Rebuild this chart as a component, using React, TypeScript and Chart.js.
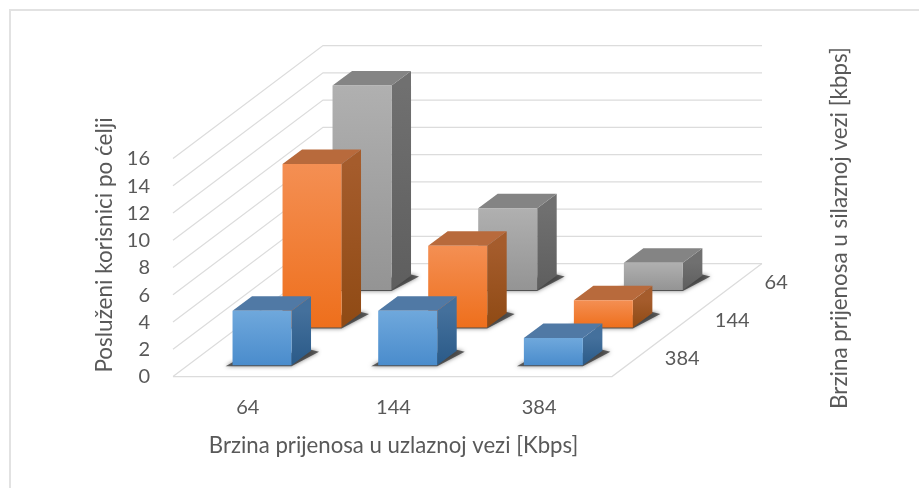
import React, { useEffect, useRef } from "react";
import { Chart, registerables } from "chart.js";

Chart.register(...registerables);

const uplinkCategories = ["64", "144", "384"];
const downlinkSeries = ["384", "144", "64"];
const usersDown384 = [4, 4, 2];
const usersDown144 = [12, 6, 2];
const usersDown64 = [15, 6, 2];
const yMax = 16;
const yStep = 2;
const yAxisTitle = "Posluženi korisnici po ćelji";
const xAxisTitle = "Brzina prijenosa u uzlaznoj vezi [Kbps]";
const depthAxisTitle = "Brzina prijenosa u silaznoj vezi [kbps]";

const FONT = "Lato, 'Open Sans', sans-serif";
const TEXT = "#595959";
const GRID = "#dcdcdc";
const WALL = { dx: 150, dy: -112.5 };
const ROW_STEP = { dx: 50, dy: -37.7 };
const ROW_START = { dx: 14.2, dy: -10.7 };
const BAR_DEPTH = { dx: 19.5, dy: -14.5 };
const LABEL_NUDGE = [0, 0, -6];
const PALETTES = [
  { hi: "#6fa8dc", lo: "#4a8ccc", topC: "#5079a5", sideHi: "#44709c", sideLo: "#2a5a88" },
  { hi: "#f48f53", lo: "#ee6f1c", topC: "#b86a3c", sideHi: "#a55c2c", sideLo: "#8f4a14" },
  { hi: "#b0b0b0", lo: "#949494", topC: "#848484", sideHi: "#707070", sideLo: "#5e5e5e" },
];

const offsetOf = (i: number) => ({
  dx: ROW_START.dx + ROW_STEP.dx * i,
  dy: ROW_START.dy + ROW_STEP.dy * i,
});

const poly = (ctx: CanvasRenderingContext2D, pts: number[][]) => {
  ctx.beginPath();
  pts.forEach(([x, y], i) => (i ? ctx.lineTo(x, y) : ctx.moveTo(x, y)));
  ctx.closePath();
};

const threeD = {
  id: "threeD",
  afterDatasetsUpdate(chart: any) {
    chart.data.datasets.forEach((_: any, i: number) => {
      const { dx, dy } = offsetOf(i);
      chart.getDatasetMeta(i).data.forEach((el: any) => {
        el.x += dx;
        el.y += dy;
        el.base += dy;
      });
    });
  },
  beforeDatasetsDraw(chart: any) {
    const { ctx, scales } = chart;
    const y = scales.y;
    const { left, right } = chart.chartArea;
    ctx.save();
    ctx.strokeStyle = GRID;
    ctx.lineWidth = 1.25;
    y.ticks.forEach((t: any) => {
      const p = y.getPixelForValue(t.value);
      ctx.beginPath();
      ctx.moveTo(left - 2, p + 0.5);
      ctx.lineTo(left + WALL.dx - 2, p + WALL.dy);
      ctx.lineTo(right + WALL.dx, p + WALL.dy);
      ctx.stroke();
    });
    const b = y.getPixelForValue(0);
    ctx.beginPath();
    ctx.moveTo(left - 2, b + 0.5);
    ctx.lineTo(right, b + 0.5);
    ctx.lineTo(right + WALL.dx, b + WALL.dy);
    ctx.stroke();
    ctx.restore();
  },
  beforeDatasetDraw(chart: any, args: any) {
    const { ctx } = chart;
    const pal = PALETTES[args.index];
    ctx.save();
    args.meta.data.forEach((el: any) => {
      const l = el.x - el.width / 2;
      const r = el.x + el.width / 2;
      const { y: t, base: b } = el;
      const d = BAR_DEPTH;
      // soft floor shadow
      ctx.save();
      ctx.shadowColor = "rgba(0,0,0,0.7)";
      ctx.shadowBlur = 4;
      ctx.fillStyle = "rgba(40,40,40,0.7)";
      poly(ctx, [
        [l - 7, b + 1],
        [r, b + 1],
        [r + d.dx + 8, b + d.dy + 1],
        [r + d.dx, b + d.dy - 1],
        [l, b - 3],
      ]);
      ctx.fill();
      ctx.restore();
      // side face
      const side = ctx.createLinearGradient(0, t, 0, b);
      side.addColorStop(0, pal.sideHi);
      side.addColorStop(1, pal.sideLo);
      ctx.fillStyle = side;
      poly(ctx, [
        [r, t],
        [r + d.dx, t + d.dy],
        [r + d.dx, b + d.dy],
        [r, b],
      ]);
      ctx.fill();
      // top face
      ctx.fillStyle = pal.topC;
      poly(ctx, [
        [l, t],
        [l + d.dx, t + d.dy],
        [r + d.dx, t + d.dy],
        [r, t],
      ]);
      ctx.fill();
    });
    ctx.restore();
  },
  afterDraw(chart: any) {
    const { ctx, chartArea, scales } = chart;
    const base = scales.y.getPixelForValue(0);
    const w = chartArea.width;
    ctx.save();
    ctx.fillStyle = TEXT;
    ctx.textAlign = "center";
    ctx.textBaseline = "middle";
    ctx.font = `20px ${FONT}`;
    downlinkSeries.forEach((label, i) => {
      const { dx, dy } = offsetOf(i);
      ctx.fillText(label, chartArea.left + w + dx + 56 + LABEL_NUDGE[i], base + dy - 7);
    });
    ctx.font = `22.5px ${FONT}`;
    ctx.save();
    ctx.translate(105, 245);
    ctx.rotate(-Math.PI / 2);
    ctx.fillText(yAxisTitle, 0, 0);
    ctx.restore();
    ctx.font = `22.4px ${FONT}`;
    ctx.save();
    ctx.translate(840, 228);
    ctx.rotate(-Math.PI / 2);
    ctx.fillText(depthAxisTitle, 0, 0);
    ctx.restore();
    ctx.restore();
  },
};

export default function App() {
  const ref = useRef<HTMLCanvasElement>(null);
  useEffect(() => {
    document.body.style.margin = "0";
    const ctx = ref.current!.getContext("2d")!;
    const fill = (i: number) => (c: any) => {
      const el = c.chart.getDatasetMeta(c.datasetIndex).data[c.dataIndex];
      if (!el || !el.base) return PALETTES[i].lo;
      const g = ctx.createLinearGradient(0, el.y, 0, el.base);
      g.addColorStop(0, PALETTES[i].hi);
      g.addColorStop(1, PALETTES[i].lo);
      return g;
    };
    const values = [usersDown384, usersDown144, usersDown64];
    const chart = new Chart(ref.current!, {
      type: "bar",
      data: {
        labels: uplinkCategories,
        datasets: downlinkSeries.map((label, i) => ({
          label,
          data: values[i],
          backgroundColor: PALETTES[i].lo,
          grouped: false,
          barPercentage: 0.405,
          categoryPercentage: 1,
          order: i,
          clip: false,
        })),
      },
      options: {
        responsive: false,
        animation: false,
        layout: { padding: { left: 0, top: 158, right: 307, bottom: 0 } },
        plugins: { legend: { display: false }, tooltip: { enabled: false } },
        scales: {
          x: {
            afterFit: (s: any) => { s.height = 112; },
            grid: { display: false },
            border: { display: false },
            ticks: { color: TEXT, font: { family: FONT, size: 20 }, padding: 12, maxRotation: 0 },
            title: {
              display: true,
              text: xAxisTitle,
              color: TEXT,
              font: { family: FONT, size: 22.2 },
              padding: { top: 0, bottom: 29 },
            },
          },
          y: {
            min: 0,
            max: yMax,
            afterFit: (s: any) => { s.width = 175; },
            grid: { display: false },
            border: { display: false },
            ticks: { stepSize: yStep, autoSkip: false, color: TEXT, font: { family: FONT, size: 20 }, padding: 17, labelOffset: 1 },
          },
        },
      },
      plugins: [threeD],
    } as any);
    chart.data.datasets.forEach((ds: any, i: number) => { ds.backgroundColor = fill(i); });
    chart.update();
    return () => chart.destroy();
  }, []);
  return (
    <div style={{ position: "relative", width: 919, height: 488, overflow: "hidden", background: "#fff" }}>
      <div
        style={{
          position: "absolute",
          left: 9,
          top: 9,
          right: 0,
          bottom: 0,
          borderLeft: "2px solid #e2e2e2",
          borderTop: "2px solid #e2e2e2",
        }}
      />
      <canvas ref={ref} width={919} height={488} style={{ position: "absolute", left: 0, top: 0, display: "block" }} />
    </div>
  );
}
